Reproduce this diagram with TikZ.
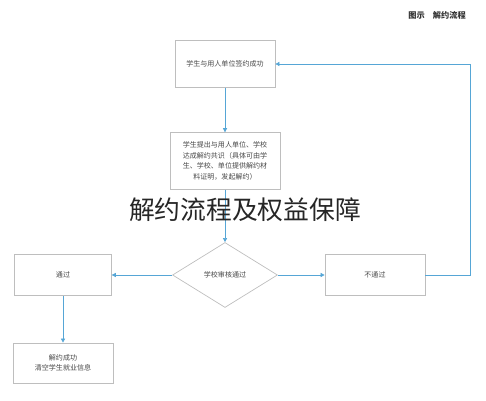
\documentclass[tikz,border=0pt]{standalone}
\usepackage{fontspec}
\usepackage{xcolor}
\usetikzlibrary{arrows.meta,positioning,shapes.geometric}
\newfontfamily\cjk{Noto Sans CJK SC}
\definecolor{lineblue}{RGB}{86,166,214}
\definecolor{boxgray}{RGB}{190,190,190}
\definecolor{textgray}{RGB}{70,70,70}

\begin{document}
\begin{tikzpicture}[
    x=0.03cm, y=-0.03cm,
    every node/.style={font=\cjk\fontsize{6}{9}\selectfont, text=textgray, align=center},
    box/.style={draw=boxgray, line width=0.6pt, minimum width=3cm, minimum height=1.4cm},
    decision/.style={diamond, draw=boxgray, line width=0.6pt, minimum width=3.15cm, minimum height=1.95cm, inner sep=0pt},
    flow/.style={draw=lineblue, line width=0.6pt, -{Triangle[length=3.5pt,width=3.5pt]}}
]
\useasboundingbox (0,0) rectangle (486,400);

\node[font=\cjk\bfseries\fontsize{7}{9}\selectfont, text=black!80] (title) at (437,15) {图示\quad 解约流程};

\node[box] (signed) at (225,64) {学生与用人单位签约成功};
\node[box, minimum width=3.3cm, minimum height=1.7cm] (agree) at (225,161)
    {学生提出与用人单位、学校\\达成解约共识（具体可由学\\生、学校、单位提供解约材\\料证明，发起解约）};
\node[decision] (check) at (225,275) {学校审核通过};
\node[box, minimum width=2.9cm, minimum height=1.25cm] (pass) at (63,275) {通过};
\node[box, minimum width=3cm, minimum height=1.25cm] (fail) at (375,275) {不通过};
\node[box, minimum width=3cm, minimum height=1.2cm] (done) at (63,363) {解约成功\\清空学生就业信息};
\coordinate (corner) at (470,275);

\draw[flow] (signed) -- (agree);
\draw[flow] (agree) -- (check);
\draw[flow] (check) -- (pass);
\draw[flow] (check) -- (fail);
\draw[flow] (pass) -- (done);
\draw[flow] (fail.east) -- (corner) |- (signed.east);

% overlay caption
\node[font=\cjk\fontsize{22}{24}\selectfont, text=black!85] (caption) at (245,210) {解约流程及权益保障};

\end{tikzpicture}
\end{document}
